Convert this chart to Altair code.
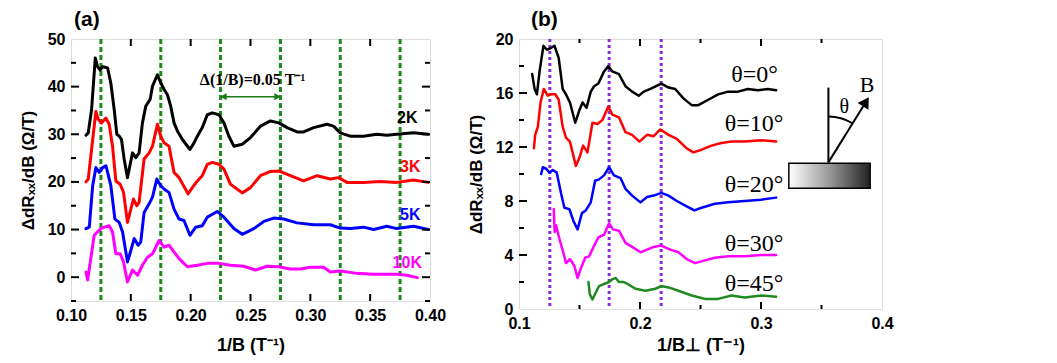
import altair as alt
import pandas as pd

# ---------------- Panel (a) data ----------------
a_2K_x = [0.1125,0.1144,0.1172,0.1203,0.1222,0.1244,0.1264,0.1306,0.1333,0.1361,0.1383,0.1403,0.1422,0.1444,0.1472,0.1492,0.1514,0.1542,0.1569,0.1597,0.1625,0.1661,0.1681,0.1722,0.1750,0.1778,0.1806,0.1833,0.1861,0.1889,0.1931,0.1994,0.2028,0.2056,0.2097,0.2139,0.2181,0.2236,0.2278,0.2319,0.2361,0.2431,0.2500,0.2583,0.2667,0.2736,0.2806,0.2889,0.2944,0.3028,0.3139,0.3194,0.3250,0.3333,0.3444,0.3556,0.3639,0.3722,0.3861,0.3986]
a_2K_y = [29.8,30.3,35.2,46.0,44.2,43.5,44.2,43.9,40.7,35.2,30.0,29.6,28.9,24.8,20.9,23.4,26.1,25.1,26.1,32.4,35.9,37.3,40.1,42.5,40.8,39.4,38.3,35.9,32.4,30.7,28.9,26.8,28.2,29.6,31.4,34.1,34.5,34.1,32.4,29.6,27.5,27.9,29.3,31.7,32.8,32.4,31.4,30.5,30.5,31.4,32.1,31.7,30.3,29.6,29.6,30.0,29.8,30.0,30.3,30.0]

a_3K_x = [0.1125,0.1144,0.1172,0.1208,0.1228,0.1256,0.1292,0.1319,0.1347,0.1375,0.1411,0.1439,0.1472,0.1500,0.1522,0.1550,0.1569,0.1611,0.1653,0.1681,0.1722,0.1750,0.1778,0.1819,0.1861,0.1903,0.1978,0.2014,0.2056,0.2097,0.2139,0.2181,0.2236,0.2278,0.2333,0.2431,0.2500,0.2583,0.2667,0.2736,0.2833,0.2944,0.3056,0.3167,0.3236,0.3306,0.3444,0.3583,0.3722,0.3861,0.3986]
a_3K_y = [20.0,20.6,26.8,34.8,33.1,32.4,33.4,32.1,27.5,20.2,19.5,17.8,11.5,14.3,16.4,15.0,15.7,24.8,26.1,27.5,32.1,29.6,28.2,27.5,22.0,20.9,17.5,18.8,20.2,21.3,23.7,24.1,23.7,22.7,19.5,17.7,18.8,21.3,22.2,22.3,21.3,20.2,21.3,20.6,20.9,19.9,19.9,20.1,19.9,20.4,19.9]

a_5K_x = [0.1125,0.1153,0.1181,0.1208,0.1236,0.1264,0.1292,0.1333,0.1367,0.1403,0.1431,0.1472,0.1500,0.1528,0.1561,0.1583,0.1611,0.1653,0.1681,0.1717,0.1750,0.1778,0.1819,0.1861,0.1903,0.1944,0.1994,0.2042,0.2097,0.2139,0.2222,0.2278,0.2361,0.2431,0.2528,0.2611,0.2694,0.2778,0.2889,0.3028,0.3167,0.3250,0.3333,0.3444,0.3528,0.3639,0.3722,0.3861,0.3986]
a_5K_y = [10.2,10.5,19.2,23.0,22.0,23.0,23.4,19.2,12.2,11.5,9.5,3.2,5.6,8.1,6.7,7.4,13.6,15.4,16.8,20.6,19.2,18.5,17.8,14.3,12.2,11.9,8.8,10.5,10.8,12.6,13.8,12.6,10.2,9.0,10.2,11.7,12.4,12.2,11.4,11.0,11.0,10.3,10.2,10.5,10.0,10.7,10.2,10.7,10.0]

a_10K_x = [0.1125,0.1139,0.1161,0.1194,0.1222,0.1250,0.1278,0.1319,0.1347,0.1375,0.1411,0.1439,0.1472,0.1514,0.1556,0.1597,0.1639,0.1681,0.1736,0.1778,0.1819,0.1861,0.1903,0.1972,0.2056,0.2139,0.2236,0.2333,0.2444,0.2542,0.2639,0.2736,0.2833,0.2917,0.3000,0.3111,0.3167,0.3250,0.3389,0.3528,0.3722,0.3806,0.3894]
a_10K_y = [1.1,-0.6,3.2,8.8,9.5,10.2,10.5,10.8,9.5,4.9,4.9,3.2,-1.0,1.5,0.4,2.5,4.2,4.9,7.7,6.3,6.7,5.3,3.9,2.2,2.5,2.9,2.9,2.5,2.3,1.5,2.3,2.2,1.7,1.7,2.1,2.1,1.1,1.3,0.8,0.6,0.6,0.4,-0.1]

a_series = ["2K", "3K", "5K", "10K"]
a_colors = ["#000000", "#ff0000", "#0000ff", "#ff00ff"]
a_label_x = [0.381, 0.3835, 0.3835, 0.381]
a_label_y = [33.5, 23.2, 13.0, 2.9]
a_guides = [0.125, 0.175, 0.225, 0.275, 0.325, 0.375]
a_x_ticks = [0.15, 0.20, 0.25, 0.30, 0.35]
a_y_major = [0, 10, 20, 30, 40]
a_y_minor = [-5, 5, 15, 25, 35, 45]
a_x_labels = [0.10, 0.15, 0.20, 0.25, 0.30, 0.35, 0.40]
a_y_labels = [0, 10, 20, 30, 40, 50]
a_arrow_x = [0.2255, 0.2745]
a_arrow_y = 37.9
a_note = "Δ(1/B)=0.05 T⁻¹"
a_note_x = 0.2517
a_note_y = 41.3

# ---------------- Panel (b) data ----------------
b_0_x = [0.1109,0.1129,0.1148,0.1170,0.1202,0.1230,0.1257,0.1293,0.1328,0.1361,0.1388,0.1421,0.1465,0.1498,0.1525,0.1558,0.1593,0.1621,0.1656,0.1703,0.1738,0.1771,0.1826,0.1880,0.1935,0.1990,0.2031,0.2086,0.2176,0.2236,0.2291,0.2359,0.2427,0.2482,0.2564,0.2646,0.2728,0.2810,0.2892,0.2974,0.3056,0.3125]
b_0_y = [17.4,16.3,15.9,17.6,19.5,19.2,19.3,19.5,18.6,16.3,15.9,15.3,13.8,14.7,15.3,14.9,16.1,16.5,16.7,17.6,18.0,17.6,17.4,16.5,16.1,15.8,16.1,16.3,16.7,16.4,16.3,15.6,15.1,15.1,15.5,15.9,16.1,16.1,16.3,16.2,16.3,16.2]

b_10_x = [0.1123,0.1134,0.1156,0.1178,0.1205,0.1238,0.1265,0.1301,0.1328,0.1361,0.1388,0.1421,0.1470,0.1503,0.1530,0.1566,0.1607,0.1648,0.1689,0.1738,0.1771,0.1826,0.1880,0.1935,0.1995,0.2058,0.2113,0.2168,0.2236,0.2304,0.2386,0.2441,0.2509,0.2591,0.2673,0.2756,0.2865,0.3002,0.3125]
b_10_y = [11.9,12.9,13.5,15.3,16.3,15.8,15.9,15.9,15.5,13.5,12.7,12.4,10.6,11.3,12.1,11.6,13.8,13.7,14.0,15.0,14.4,14.2,13.1,12.9,12.4,12.9,12.8,13.3,12.9,12.6,11.9,11.6,11.8,12.1,12.3,12.4,12.4,12.5,12.4]

b_20_x = [0.1183,0.1197,0.1224,0.1252,0.1279,0.1312,0.1347,0.1375,0.1416,0.1451,0.1484,0.1520,0.1552,0.1593,0.1629,0.1662,0.1703,0.1744,0.1785,0.1839,0.1880,0.1935,0.2004,0.2058,0.2113,0.2176,0.2236,0.2304,0.2386,0.2449,0.2509,0.2619,0.2728,0.2865,0.3002,0.3125]
b_20_y = [10.0,10.5,10.4,10.1,10.3,10.1,8.6,7.5,7.4,6.5,5.9,7.1,7.3,7.9,9.5,9.6,9.9,10.5,9.9,9.7,8.9,8.4,7.9,8.3,8.4,8.6,8.4,8.0,7.6,7.3,7.5,7.8,7.9,8.0,8.1,8.25]

b_30_x = [0.1287,0.1295,0.1306,0.1334,0.1366,0.1388,0.1421,0.1457,0.1484,0.1511,0.1547,0.1580,0.1621,0.1656,0.1703,0.1744,0.1777,0.1826,0.1880,0.1935,0.2004,0.2058,0.2113,0.2176,0.2250,0.2318,0.2386,0.2455,0.2537,0.2619,0.2728,0.2865,0.3002,0.3125]
b_30_y = [7.4,5.7,6.2,5.2,4.2,3.4,3.7,3.2,2.3,3.0,3.8,3.9,4.7,5.3,5.5,6.35,5.9,5.8,4.9,4.6,4.2,4.4,4.6,4.7,4.4,4.2,3.7,3.4,3.6,3.8,3.9,3.9,4.0,4.0]

b_45_x = [0.1574,0.1585,0.1607,0.1634,0.1662,0.1703,0.1744,0.1771,0.1799,0.1826,0.1867,0.1908,0.1963,0.2045,0.2127,0.2176,0.2236,0.2318,0.2427,0.2537,0.2646,0.2756,0.2865,0.3002,0.3125]
b_45_y = [2.0,1.1,0.7,1.2,1.7,1.85,2.0,2.2,2.3,2.0,2.0,1.8,1.5,1.35,1.5,1.7,1.6,1.35,1.0,0.75,0.75,1.0,0.85,1.0,0.9]

b_series = ["θ=0°", "θ=10°", "θ=20°", "θ=30°", "θ=45°"]
b_colors = ["#000000", "#ff0000", "#0000ff", "#ff00ff", "#1f8a1f"]
b_label_x = [0.3140, 0.3185, 0.3185, 0.3185, 0.3185]
b_label_y = [17.3, 13.7, 9.2, 4.8, 1.85]
b_guides = [0.1255, 0.1745, 0.2175]
b_x_major = [0.2, 0.3]
b_x_minor = [0.15, 0.25, 0.35]
b_y_major = [4, 8, 12, 16]
b_y_minor = [2, 6, 10, 14, 18]
b_x_labels = [0.1, 0.2, 0.3, 0.4]
b_y_labels = [0, 4, 8, 12, 16, 20]
# inset sketch (sample + field direction)
b_box = [0.3230, 0.3902, 8.94, 10.79]
b_normal = [0.3557, 10.86, 16.4]
b_field = [0.3557, 10.86, 0.3902, 15.9]
b_theta_txt = [0.3689, 15.0]
b_B_txt = [0.3877, 16.6]

panel_letters = ["(a)", "(b)"]

SANS = "Liberation Sans"
SERIF = "Liberation Serif"

WA, HA = 359, 262
WB, HB = 363, 270


def long_df(names, xs, ys):
    rows = []
    for n, xx, yy in zip(names, xs, ys):
        for a, b in zip(xx, yy):
            rows.append({"s": n, "x": a, "y": b})
    return pd.DataFrame(rows)


def tick_layers(xsc, ysc, xt, yt, W, H, right=True):
    layers = []
    for vals, L in xt:
        d = pd.DataFrame({"x": vals})
        layers.append(alt.Chart(d).mark_rule(color="black", strokeWidth=2).encode(
            x=alt.X("x:Q", scale=xsc), y=alt.value(0), y2=alt.value(L)))
        layers.append(alt.Chart(d).mark_rule(color="black", strokeWidth=2).encode(
            x=alt.X("x:Q", scale=xsc), y=alt.value(H), y2=alt.value(H - L)))
    for vals, L in yt:
        d = pd.DataFrame({"y": vals})
        layers.append(alt.Chart(d).mark_rule(color="black", strokeWidth=2).encode(
            y=alt.Y("y:Q", scale=ysc), x=alt.value(0), x2=alt.value(L)))
        if right:
            layers.append(alt.Chart(d).mark_rule(color="black", strokeWidth=2).encode(
                y=alt.Y("y:Q", scale=ysc), x=alt.value(W), x2=alt.value(W - L)))
    return layers


def letter(txt, dx):
    return alt.Chart(pd.DataFrame({"t": [txt]})).mark_text(
        font=SANS, fontSize=21, fontWeight="bold", color="black", align="left", baseline="top").encode(
        x=alt.value(dx), y=alt.value(-30), text="t:N")


def xaxis(vals, fmt, title, tpad):
    return alt.Axis(values=vals, format=fmt, title=title, ticks=False, domain=False, grid=False,
                    labelFont=SANS, labelFontSize=16, labelFontWeight="bold", labelColor="black",
                    labelPadding=6, labelFlush=False, labelOverlap=False,
                    titleFont=SANS, titleFontSize=18, titleFontWeight="bold", titleColor="black",
                    titlePadding=tpad)


def yaxis(vals, fmt, title):
    return alt.Axis(values=vals, format=fmt, title=title, ticks=False, domain=False, grid=False,
                    labelFont=SANS, labelFontSize=16, labelFontWeight="bold", labelColor="black",
                    labelPadding=6, labelFlush=False, labelOverlap=False,
                    titleFont=SANS, titleFontSize=17, titleFontWeight="bold", titleColor="black",
                    titlePadding=10)


ytitle = "ΔdRₓₓ/dB (Ω/T)"

# ---------------- Panel (a) ----------------
xsa = alt.Scale(domain=[0.10, 0.40], nice=False, zero=False)
ysa = alt.Scale(domain=[-5, 50], nice=False, zero=False)

dfa = long_df(a_series, [a_2K_x, a_3K_x, a_5K_x, a_10K_x], [a_2K_y, a_3K_y, a_5K_y, a_10K_y])
csa = alt.Scale(domain=a_series, range=a_colors)

a_guides_l = alt.Chart(pd.DataFrame({"x": a_guides})).mark_rule(
    color="#1a8a1a", strokeWidth=3, strokeDash=[5, 3]).encode(
    x=alt.X("x:Q", scale=xsa, axis=xaxis(a_x_labels, ".2f", "1/B (T⁻¹)", 13)))
a_lines = alt.Chart(dfa).mark_line(strokeWidth=3, strokeJoin="round", strokeCap="round").encode(
    x=alt.X("x:Q", scale=xsa),
    y=alt.Y("y:Q", scale=ysa, axis=yaxis(a_y_labels, "d", ytitle)),
    color=alt.Color("s:N", scale=csa, legend=None),
    detail="s:N")
a_lab = alt.Chart(pd.DataFrame({"s": a_series, "x": a_label_x, "y": a_label_y})).mark_text(
    font=SANS, fontSize=16, fontWeight="bold").encode(
    x=alt.X("x:Q", scale=xsa), y=alt.Y("y:Q", scale=ysa), text="s:N",
    color=alt.Color("s:N", scale=csa, legend=None))
a_arr = alt.Chart(pd.DataFrame({"x": [a_arrow_x[0]], "x2": [a_arrow_x[1]], "y": [a_arrow_y]})).mark_rule(
    color="#1a7a1a", strokeWidth=1.5).encode(
    x=alt.X("x:Q", scale=xsa), x2="x2:Q", y=alt.Y("y:Q", scale=ysa))
a_head_l = alt.Chart(pd.DataFrame({"x": [a_arrow_x[0] + 0.002], "y": [a_arrow_y]})).mark_point(
    shape="triangle-left", filled=True, color="#1a7a1a", size=50, opacity=1).encode(
    x=alt.X("x:Q", scale=xsa), y=alt.Y("y:Q", scale=ysa))
a_head_r = alt.Chart(pd.DataFrame({"x": [a_arrow_x[1] - 0.002], "y": [a_arrow_y]})).mark_point(
    shape="triangle-right", filled=True, color="#1a7a1a", size=50, opacity=1).encode(
    x=alt.X("x:Q", scale=xsa), y=alt.Y("y:Q", scale=ysa))
a_note_t = alt.Chart(pd.DataFrame({"x": [a_note_x], "y": [a_note_y], "t": [a_note]})).mark_text(
    font=SERIF, fontSize=16, fontWeight="bold", color="black").encode(
    x=alt.X("x:Q", scale=xsa), y=alt.Y("y:Q", scale=ysa), text="t:N")

a_ticks = tick_layers(xsa, ysa, [(a_x_ticks, 7)], [(a_y_major, 8), (a_y_minor, 5)], WA, HA)

panel_a = alt.layer(a_guides_l, a_lines, a_lab, a_arr, a_head_l, a_head_r, a_note_t,
                    letter(panel_letters[0], 3), *a_ticks).properties(width=WA, height=HA)

# ---------------- Panel (b) ----------------
xsb = alt.Scale(domain=[0.1, 0.4], nice=False, zero=False)
ysb = alt.Scale(domain=[0, 20], nice=False, zero=False)

dfb = long_df(b_series, [b_0_x, b_10_x, b_20_x, b_30_x, b_45_x], [b_0_y, b_10_y, b_20_y, b_30_y, b_45_y])
csb = alt.Scale(domain=b_series, range=b_colors)

b_guides_l = alt.Chart(pd.DataFrame({"x": b_guides})).mark_rule(
    color="#8a2be2", strokeWidth=3, strokeDash=[3, 3]).encode(
    x=alt.X("x:Q", scale=xsb, axis=xaxis(b_x_labels, ".1f", "1/B⊥ (T⁻¹)", 5)))
b_lines = alt.Chart(dfb).mark_line(strokeWidth=2.5, strokeJoin="round", strokeCap="round").encode(
    x=alt.X("x:Q", scale=xsb),
    y=alt.Y("y:Q", scale=ysb, axis=yaxis(b_y_labels, "d", ytitle)),
    color=alt.Color("s:N", scale=csb, legend=None),
    detail="s:N")
b_lab = alt.Chart(pd.DataFrame({"s": b_series, "x": b_label_x, "y": b_label_y})).mark_text(
    font=SERIF, fontSize=24, align="right", color="black").encode(
    x=alt.X("x:Q", scale=xsb), y=alt.Y("y:Q", scale=ysb), text="s:N")

grad = alt.LinearGradient(gradient="linear", x1=0, x2=1, y1=0, y2=0,
                          stops=[alt.GradientStop(offset=0, color="#ffffff"),
                                 alt.GradientStop(offset=0.5, color="#999999"),
                                 alt.GradientStop(offset=1, color="#222222")])
b_box_m = alt.Chart(pd.DataFrame({"x": [b_box[0]], "x2": [b_box[1]], "y": [b_box[2]], "y2": [b_box[3]]})).mark_rect(
    color=grad, stroke="black", strokeWidth=1.5).encode(
    x=alt.X("x:Q", scale=xsb), x2="x2:Q", y=alt.Y("y:Q", scale=ysb), y2="y2:Q")
b_norm = alt.Chart(pd.DataFrame({"x": [b_normal[0]], "y": [b_normal[1]], "y2": [b_normal[2]]})).mark_rule(
    color="black", strokeWidth=2).encode(
    x=alt.X("x:Q", scale=xsb), y=alt.Y("y:Q", scale=ysb), y2="y2:Q")
b_fld = alt.Chart(pd.DataFrame({"x": [b_field[0]], "y": [b_field[1]], "x2": [b_field[2] - 0.002], "y2": [b_field[3] - 0.35]})).mark_rule(
    color="black", strokeWidth=2).encode(
    x=alt.X("x:Q", scale=xsb), y=alt.Y("y:Q", scale=ysb), x2="x2:Q", y2="y2:Q")
b_head = alt.Chart(pd.DataFrame({"x": [b_field[2] - 0.0035], "y": [b_field[3] - 0.55]})).mark_point(
    shape="triangle-up", filled=True, color="black", size=160, angle=32, opacity=1).encode(
    x=alt.X("x:Q", scale=xsb), y=alt.Y("y:Q", scale=ysb))
b_arc = alt.Chart(pd.DataFrame({"x": [b_normal[0]], "y": [b_normal[1]]})).mark_arc(
    theta=0, theta2=0.553, radius=45, radius2=47, color="black", opacity=1).encode(
    x=alt.X("x:Q", scale=xsb), y=alt.Y("y:Q", scale=ysb))
b_txt = alt.Chart(pd.DataFrame({"x": [b_theta_txt[0], b_B_txt[0]], "y": [b_theta_txt[1], b_B_txt[1]], "t": ["θ", "B"], "f": [20, 22]})).mark_text(
    font=SERIF, color="black").encode(
    x=alt.X("x:Q", scale=xsb), y=alt.Y("y:Q", scale=ysb), text="t:N",
    size=alt.Size("f:Q", scale=None, legend=None))

b_ticks = tick_layers(xsb, ysb, [(b_x_major, 7), (b_x_minor, 4)], [(b_y_major, 8), (b_y_minor, 5)], WB, HB, right=False)

panel_b = alt.layer(b_guides_l, b_lines, b_lab, b_box_m, b_norm, b_fld, b_head, b_arc, b_txt,
                    letter(panel_letters[1], 12), *b_ticks).properties(width=WB, height=HB)

chart = alt.hconcat(panel_a, panel_b, spacing=89, bounds="flush").resolve_scale(
    color="independent", size="independent"
).properties(
    padding={"left": 10, "top": 0, "right": 5, "bottom": 2}
).configure_view(stroke="black", strokeWidth=2.5).configure(background="white")

chart.save("out.html", embed_options={"renderer": "svg", "actions": False})
